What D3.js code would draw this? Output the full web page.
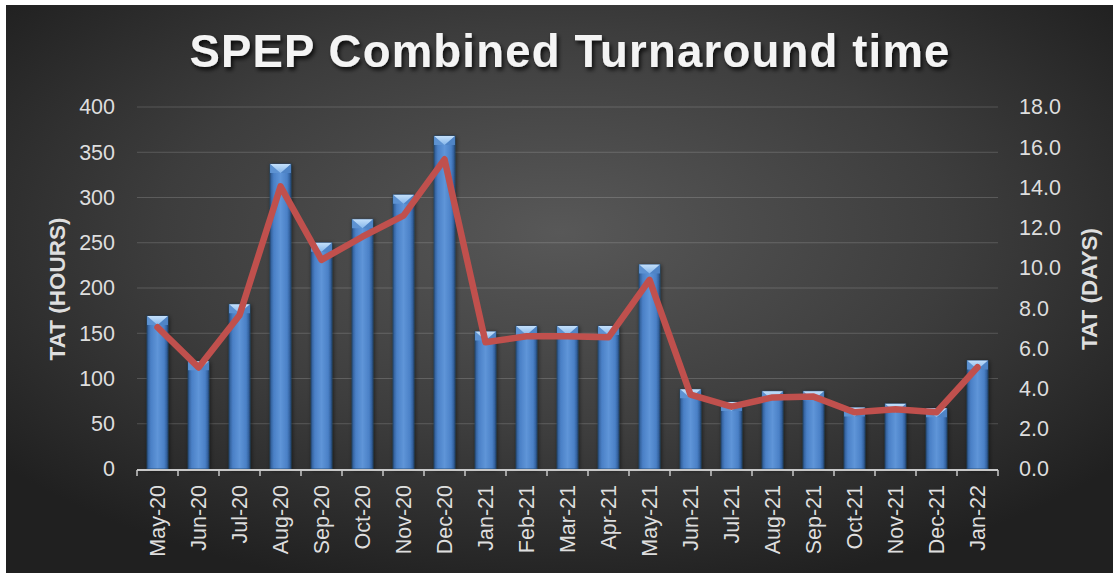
<!DOCTYPE html>
<html>
<head>
<meta charset="utf-8">
<script src="https://cdn.jsdelivr.net/npm/d3@7"></script>
<style>
html,body{margin:0;padding:0;background:#fff;}
svg{display:block;}
text{font-family:"Liberation Sans",Arial,sans-serif;}
</style>
</head>
<body>
<svg id="chart" width="1118" height="577"></svg>
<script>
const categories = ["May-20","Jun-20","Jul-20","Aug-20","Sep-20","Oct-20","Nov-20","Dec-20","Jan-21","Feb-21","Mar-21","Apr-21","May-21","Jun-21","Jul-21","Aug-21","Sep-21","Oct-21","Nov-21","Dec-21","Jan-22"];
const tatHours = [169,119,182,337,250,276,303,368,152,158,158,158,226,88,74,86,86,68,72,67,120];
const tatDays = [7.05,5.05,7.65,14.05,10.4,11.55,12.6,15.4,6.3,6.6,6.6,6.55,9.4,3.7,3.1,3.56,3.6,2.82,2.97,2.82,5.06];
const leftTicks = [0,50,100,150,200,250,300,350,400];
const rightTicks = [0,2,4,6,8,10,12,14,16,18];
const titleText = "SPEP Combined Turnaround time";
const leftTitle = "TAT (HOURS)";
const rightTitle = "TAT (DAYS)";

const W = 1118, H = 577;
const plot = {left:137, right:998, top:107, bottom:469};

const svg = d3.select("#chart");
const defs = svg.append("defs");

const bg = defs.append("radialGradient").attr("id","bg")
  .attr("cx","50%").attr("cy","40%").attr("r","65%");
bg.append("stop").attr("offset","0%").attr("stop-color","#585858");
bg.append("stop").attr("offset","55%").attr("stop-color","#3d3d3d");
bg.append("stop").attr("offset","100%").attr("stop-color","#202020");

const barGrad = defs.append("linearGradient").attr("id","barGrad")
  .attr("x1","0%").attr("x2","100%").attr("y1","0%").attr("y2","0%");
barGrad.append("stop").attr("offset","0%").attr("stop-color","#2b5890");
barGrad.append("stop").attr("offset","18%").attr("stop-color","#4a80c6");
barGrad.append("stop").attr("offset","50%").attr("stop-color","#5f95d8");
barGrad.append("stop").attr("offset","82%").attr("stop-color","#4a80c6");
barGrad.append("stop").attr("offset","100%").attr("stop-color","#28538a");

const capGrad = defs.append("linearGradient").attr("id","capGrad")
  .attr("x1","0%").attr("x2","0%").attr("y1","0%").attr("y2","100%");
capGrad.append("stop").attr("offset","0%").attr("stop-color","#c4e0fb");
capGrad.append("stop").attr("offset","100%").attr("stop-color","#86b6ea");

const shadow = defs.append("filter").attr("id","tshadow")
  .attr("x","-10%").attr("y","-30%").attr("width","120%").attr("height","160%");
shadow.append("feDropShadow").attr("dx",2).attr("dy",3).attr("stdDeviation",2)
  .attr("flood-color","#000").attr("flood-opacity",0.8);

const bshadow = defs.append("filter").attr("id","bshadow")
  .attr("x","-50%").attr("y","-10%").attr("width","200%").attr("height","120%");
bshadow.append("feDropShadow").attr("dx",1).attr("dy",1).attr("stdDeviation",2)
  .attr("flood-color","#000").attr("flood-opacity",0.55);

// background
svg.append("rect").attr("x",6).attr("y",5).attr("width",1107).attr("height",568)
  .attr("fill","url(#bg)");

// title
svg.append("text").attr("x",570).attr("y",67).attr("text-anchor","middle")
  .attr("font-size",45.5).attr("font-weight","bold").attr("fill","#f4f4f4")
  .attr("letter-spacing",1.2).attr("filter","url(#tshadow)").text(titleText);

const x = d3.scaleBand().domain(categories).range([plot.left, plot.right])
  .paddingInner(0.49).paddingOuter(0.245);
const yL = d3.scaleLinear().domain([0,400]).range([plot.bottom, plot.top]);
const yR = d3.scaleLinear().domain([0,18]).range([plot.bottom, plot.top]);

// gridlines
svg.append("g").selectAll("line").data(leftTicks.filter(d=>d>0)).join("line")
  .attr("x1",plot.left).attr("x2",plot.right)
  .attr("y1",d=>yL(d)).attr("y2",d=>yL(d))
  .attr("stroke","#ffffff").attr("stroke-opacity",0.17).attr("stroke-width",1.2);

// left axis
const gL = svg.append("g").attr("transform",`translate(${plot.left},0)`)
  .call(d3.axisLeft(yL).tickValues(leftTicks).tickSize(0).tickPadding(22).tickFormat(d3.format("d")));
gL.select(".domain").remove();
gL.selectAll("text").attr("font-size",21.5).attr("fill","#dedede")
  .attr("font-family","'Liberation Sans',Arial,sans-serif");

// right axis
const gR = svg.append("g").attr("transform",`translate(${plot.right},0)`)
  .call(d3.axisRight(yR).tickValues(rightTicks).tickSize(0).tickPadding(21).tickFormat(d3.format(".1f")));
gR.select(".domain").remove();
gR.selectAll("text").attr("font-size",21.5).attr("fill","#dedede")
  .attr("font-family","'Liberation Sans',Arial,sans-serif");

// bars
const bars = svg.append("g");
const capH = 9;
categories.forEach((c,i)=>{
  const x0 = x(c), bw = x.bandwidth(), x1 = x0+bw, xc = x0+bw/2;
  const y0 = yL(tatHours[i]), yb = yL(0);
  const g = bars.append("g");
  g.append("rect").attr("x",x0).attr("y",y0).attr("width",bw).attr("height",yb-y0)
    .attr("fill","url(#barGrad)").attr("stroke","#24476f").attr("stroke-width",0.8)
    .attr("filter","url(#bshadow)");
  const h = Math.min(capH, yb-y0);
  g.append("path").attr("d",`M${x0},${y0}L${xc},${y0+h}L${x0},${y0+h}Z`).attr("fill","#5d92d2");
  g.append("path").attr("d",`M${x1},${y0}L${xc},${y0+h}L${x1},${y0+h}Z`).attr("fill","#4f84c6");
  g.append("path").attr("d",`M${x0},${y0}L${x1},${y0}L${xc},${y0+h}Z`).attr("fill","url(#capGrad)");
});

// bottom axis
const gB = svg.append("g").attr("transform",`translate(0,${plot.bottom})`)
  .call(d3.axisBottom(x).tickSize(0).tickPadding(0));
gB.select(".domain").remove();
gB.selectAll("text")
  .attr("font-size",21.5).attr("fill","#dedede")
  .attr("font-family","'Liberation Sans',Arial,sans-serif")
  .attr("text-anchor","end").attr("dy",null)
  .attr("transform","translate(7,16) rotate(-90)").attr("x",0).attr("y",0);
gB.append("line").attr("x1",plot.left).attr("x2",plot.right).attr("y1",1).attr("y2",1)
  .attr("stroke","#c8c8c8").attr("stroke-width",2);
const bounds = d3.range(categories.length+1);
gB.selectAll(".btick").data(bounds).join("line").attr("class","btick")
  .attr("x1",i=>plot.left + i*x.step()).attr("x2",i=>plot.left + i*x.step())
  .attr("y1",1).attr("y2",7).attr("stroke","#c8c8c8").attr("stroke-width",1.5);

// line
const line = d3.line().x((d,i)=>x(categories[i])+x.bandwidth()/2).y(d=>yR(d));
svg.append("path").datum(tatDays).attr("d",line).attr("fill","none")
  .attr("stroke","#c0504d").attr("stroke-width",6.5)
  .attr("stroke-linejoin","round").attr("stroke-linecap","round");

// axis titles
svg.append("text").attr("transform","translate(65,289) rotate(-90)")
  .attr("text-anchor","middle").attr("font-size",22.5).attr("font-weight","bold")
  .attr("fill","#dedede").text(leftTitle);
svg.append("text").attr("transform","translate(1097,289) rotate(-90)")
  .attr("text-anchor","middle").attr("font-size",22.5).attr("font-weight","bold")
  .attr("fill","#dedede").text(rightTitle);
</script>
</body>
</html>
